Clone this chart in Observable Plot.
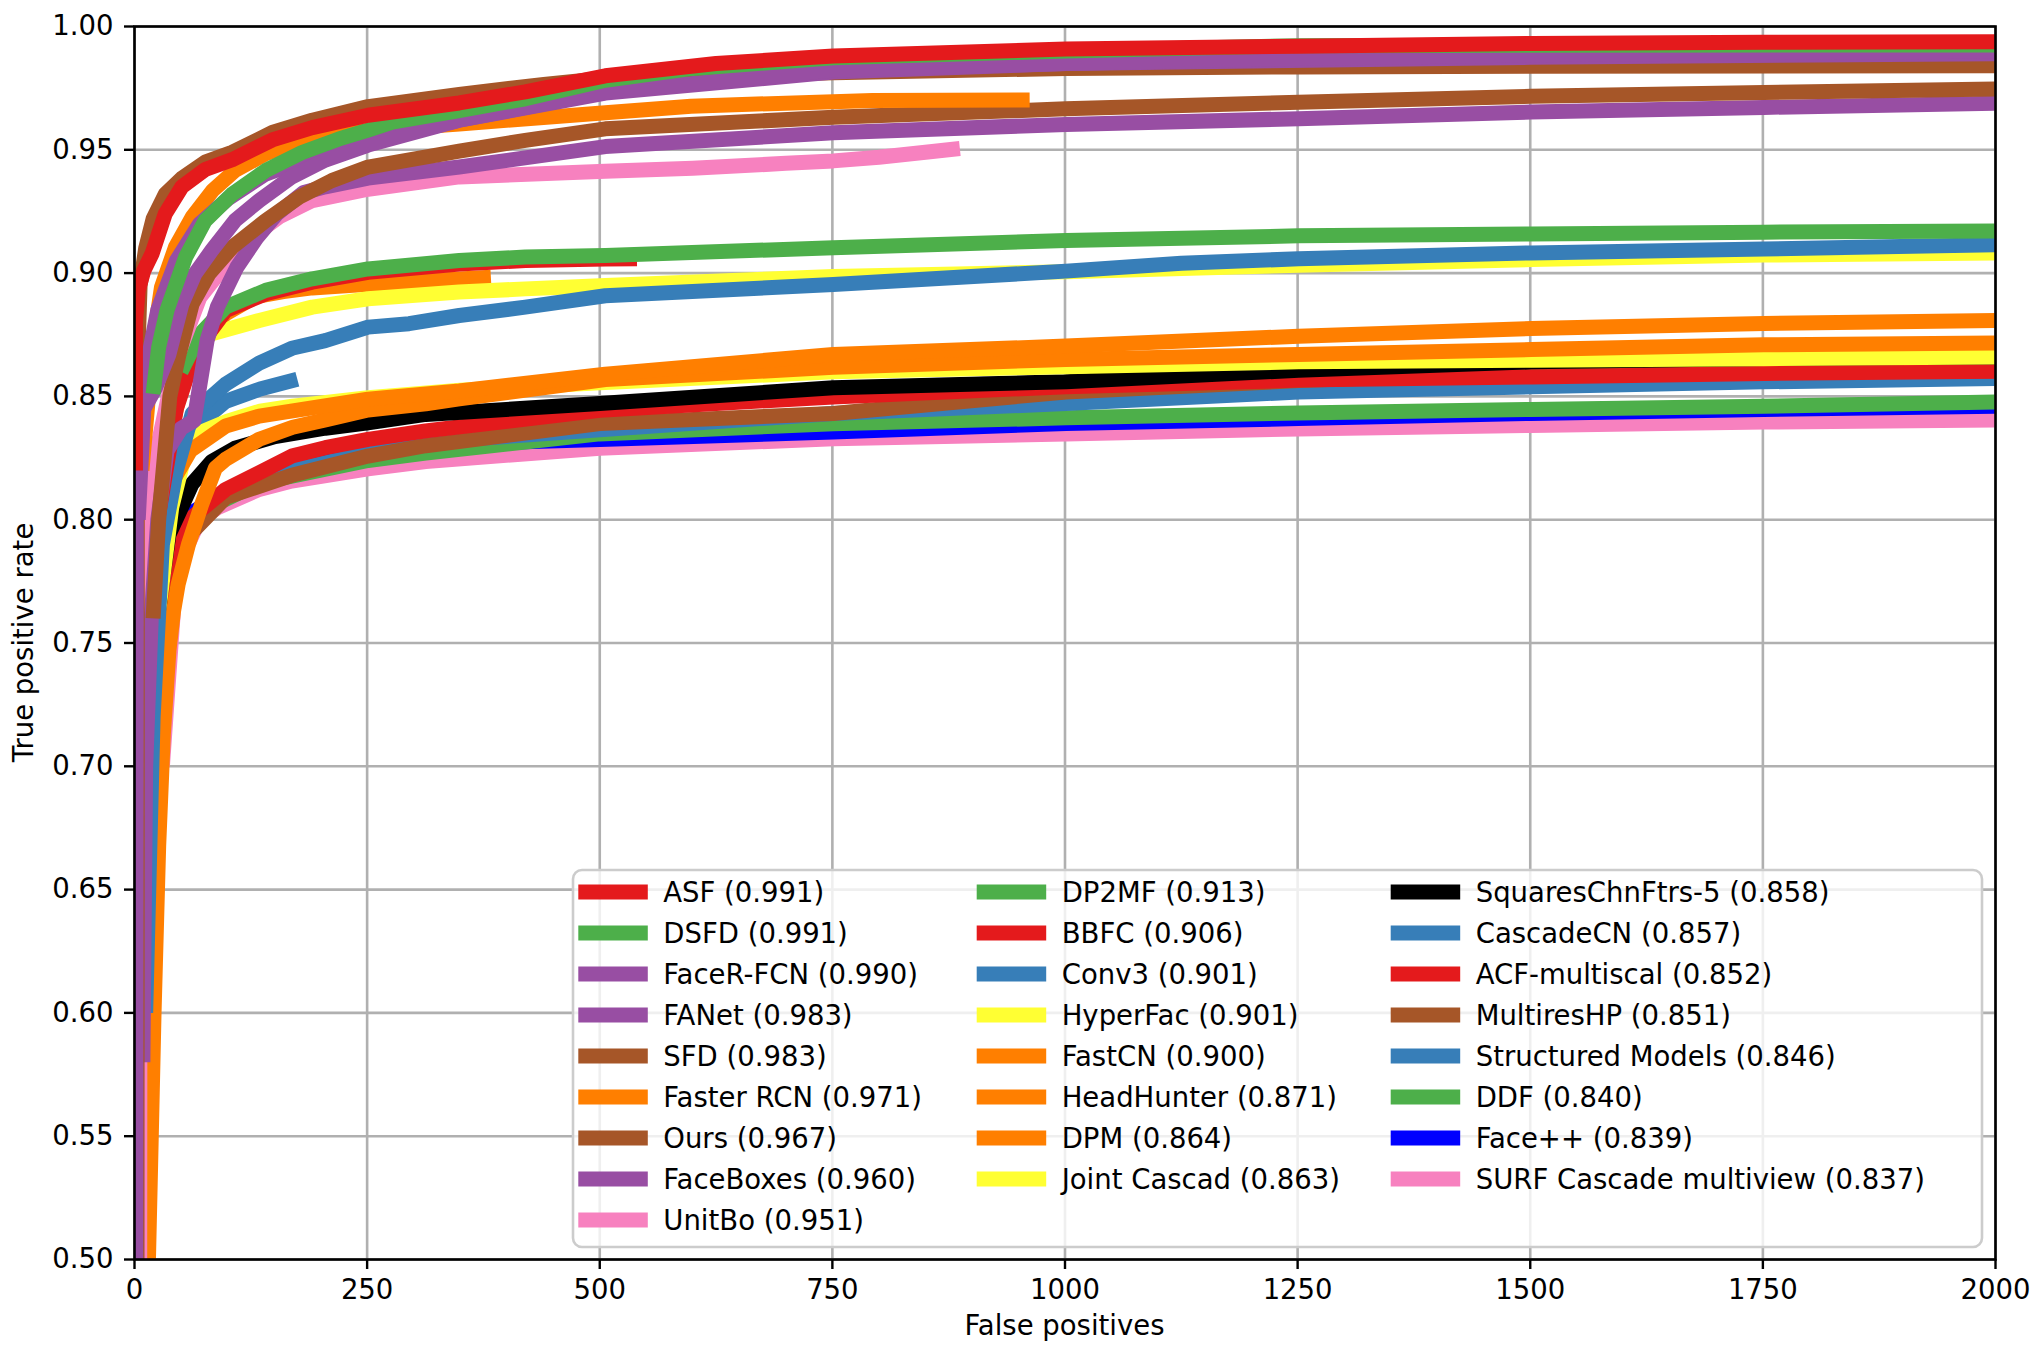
<!DOCTYPE html>
<html>
<head>
<meta charset="utf-8">
<script src="https://cdn.jsdelivr.net/npm/d3@7"></script>
<script src="https://cdn.jsdelivr.net/npm/@observablehq/plot@0.6"></script>
<style>
  html, body { margin: 0; padding: 0; background: #fff; }
  #chart { position: relative; width: 2038px; height: 1349px; }
</style>
</head>
<body>
<div id="chart"></div>
<script>
// ---------- data: [false positives, true positive rate] ----------
const ASF = [[1,0.82],[1,0.88],[4,0.893],[10,0.901],[19,0.908],[33,0.924],[51,0.935],[76,0.942],[105,0.946],[148,0.954],[191,0.959],[251,0.964],[349,0.969],[420,0.9735],[506,0.980],[625,0.985],[751,0.988],[1001,0.9909],[1251,0.992],[1501,0.9931],[1751,0.9936],[2000,0.9938]];
const DSFD = [[20,0.851],[26,0.87],[35,0.885],[55,0.9065],[76,0.9213],[105,0.932],[141,0.9416],[180,0.9489],[219,0.9543],[251,0.958],[277,0.9612],[349,0.9659],[420,0.9707],[506,0.9782],[600,0.983],[751,0.9873],[1001,0.9901],[1251,0.9922],[1501,0.9924],[2000,0.9925]];
const FaceRFCN = [[1.3,0.50],[2,0.83],[10,0.845],[22,0.853],[37,0.867],[51,0.8875],[65,0.8997],[83,0.9092],[108,0.9213],[134,0.9294],[169,0.939],[205,0.9458],[251,0.9519],[349,0.962],[506,0.9735],[751,0.9823],[1001,0.985],[1251,0.987],[1501,0.9885],[1751,0.9895],[2000,0.990]];
const FANet = [[4,0.80],[12,0.86],[25,0.885],[45,0.905],[70,0.92],[100,0.93],[140,0.94],[191,0.947],[251,0.953],[349,0.962],[506,0.973],[751,0.9815],[1001,0.985],[1500,0.9875],[2000,0.989]];
const SFD = [[2.7,0.50],[3,0.86],[6,0.895],[12,0.91],[20,0.922],[33,0.932],[51,0.9385],[76,0.945],[105,0.949],[148,0.957],[191,0.962],[251,0.9675],[349,0.9725],[440,0.9765],[506,0.979],[751,0.9812],[1001,0.983],[1251,0.9836],[1500,0.9839],[2000,0.9841]];
const FasterRCN = [[8,0.82],[15,0.85],[21,0.874],[29,0.8943],[44,0.9105],[62,0.9227],[84,0.9335],[108,0.9416],[141,0.9484],[191,0.9551],[251,0.9578],[349,0.9605],[506,0.965],[598,0.9677],[793,0.970],[962,0.9702]];
const Ours = [[20,0.76],[26,0.80],[32,0.825],[38,0.85],[48,0.8673],[62,0.8875],[80,0.8997],[105,0.9105],[141,0.9213],[177,0.9308],[212,0.9375],[251,0.943],[349,0.9495],[420,0.9538],[506,0.9585],[751,0.9632],[1001,0.9666],[1251,0.9693],[1501,0.9717],[1751,0.9732],[2000,0.9747]];
const FaceBoxes = [[9,0.58],[12,0.70],[18,0.76],[25,0.80],[35,0.828],[50,0.837],[64,0.8402],[78,0.8727],[89,0.8862],[110,0.9024],[132,0.9146],[153,0.924],[182,0.9327],[205,0.935],[251,0.9385],[349,0.943],[506,0.9513],[751,0.9569],[1001,0.9603],[1251,0.9626],[1501,0.9653],[1751,0.9672],[2000,0.9689]];
const UnitBo = [[5.6,0.50],[6,0.72],[12,0.79],[25,0.83],[45,0.865],[70,0.89],[101,0.905],[126,0.9146],[155,0.9227],[191,0.9294],[251,0.934],[349,0.939],[506,0.9413],[600,0.9425],[700,0.9445],[751,0.9455],[800,0.947],[850,0.949],[887,0.9505]];
const DP2MF = [[50,0.86],[70,0.875],[98,0.8862],[141,0.893],[191,0.8977],[251,0.9017],[349,0.9051],[420,0.9065],[506,0.9071],[751,0.9103],[1001,0.9132],[1251,0.9151],[1501,0.9159],[1751,0.9166],[2000,0.9171]];
const BBFC = [[25,0.80],[45,0.845],[65,0.868],[98,0.8848],[141,0.8916],[191,0.8963],[251,0.9003],[349,0.9037],[420,0.9051],[506,0.9057],[540,0.9058]];
const Conv3 = [[12,0.60],[20,0.72],[30,0.79],[45,0.82],[62,0.843],[98,0.855],[134,0.8635],[169,0.8695],[205,0.8726],[251,0.8781],[295,0.8795],[349,0.8828],[420,0.8862],[506,0.8908],[751,0.8954],[1001,0.9008],[1125,0.904],[1251,0.9058],[1501,0.9082],[1751,0.9098],[2000,0.9115]];
const HyperFac = [[83,0.8754],[134,0.8808],[191,0.8862],[251,0.8896],[349,0.8923],[420,0.8936],[506,0.895],[751,0.8986],[1001,0.9005],[1251,0.9032],[1501,0.9055],[1751,0.9073],[2000,0.9082]];
const FastCN = [[30,0.82],[60,0.87],[98,0.8835],[130,0.8905],[160,0.8925],[191,0.894],[251,0.8955],[320,0.897],[383,0.8983]];
const HeadHunter = [[15,0.74],[25,0.79],[40,0.815],[60,0.828],[98,0.838],[134,0.842],[170,0.8441],[251,0.8489],[349,0.8522],[506,0.859],[751,0.867],[1001,0.8704],[1251,0.8744],[1501,0.8775],[1751,0.8796],[2000,0.8808]];
const DPM = [[15,0.50],[17,0.533],[21,0.60],[26,0.668],[31,0.713],[37,0.747],[42,0.763],[47,0.774],[58,0.79],[72,0.806],[87,0.821],[98,0.8245],[134,0.8326],[170,0.8375],[205,0.8405],[251,0.8445],[313,0.847],[349,0.849],[506,0.8568],[751,0.8618],[1001,0.865],[1251,0.867],[1501,0.869],[1751,0.8709],[2000,0.8717]];
const JointCascad = [[25,0.76],[40,0.805],[55,0.828],[75,0.836],[100,0.84],[135,0.844],[170,0.846],[251,0.8495],[350,0.8525],[500,0.8555],[751,0.86],[1001,0.862],[1251,0.864],[1501,0.8647],[1751,0.8653],[2000,0.866]];
const SquaresChnFtrs = [[18,0.68],[20,0.70],[24,0.736],[28,0.77],[37,0.794],[48,0.803],[62,0.8146],[83,0.8236],[108,0.829],[151,0.8337],[205,0.8371],[251,0.8393],[313,0.8427],[500,0.8471],[751,0.8535],[1001,0.8559],[1251,0.8606],[1501,0.864],[1751,0.8654],[2000,0.866]];
const CascadeCN = [[10,0.60],[18,0.72],[28,0.79],[45,0.825],[65,0.8375],[98,0.848],[135,0.853],[175,0.857]];
const ACF = [[14,0.68],[20,0.74],[35,0.78],[50,0.795],[62,0.801],[98,0.8123],[134,0.819],[169,0.8258],[205,0.8292],[251,0.8326],[313,0.836],[500,0.8444],[751,0.8498],[1001,0.8539],[1251,0.8566],[1501,0.8579],[1751,0.8593],[2000,0.8602]];
const MultiresHP = [[10,0.65],[25,0.75],[40,0.78],[62,0.795],[98,0.809],[169,0.818],[251,0.8258],[313,0.83],[500,0.839],[751,0.8431],[1001,0.8518],[1251,0.8564],[1501,0.8597],[1751,0.8601],[2000,0.8603]];
const StructuredModels = [[14,0.70],[25,0.76],[40,0.785],[62,0.80],[98,0.811],[134,0.817],[251,0.827],[313,0.8314],[500,0.8365],[751,0.8431],[1001,0.8471],[1251,0.8518],[1501,0.8539],[1751,0.8559],[2000,0.8573]];
const DDF = [[20,0.70],[35,0.758],[42,0.781],[55,0.794],[80,0.805],[135,0.815],[251,0.824],[313,0.827],[500,0.8348],[751,0.8389],[1001,0.8413],[1251,0.8433],[1501,0.8447],[1751,0.846],[2000,0.8477]];
const FacePP = [[15,0.70],[30,0.78],[50,0.80],[100,0.812],[170,0.82],[251,0.829],[313,0.8305],[500,0.8325],[751,0.8356],[1001,0.839],[1251,0.841],[1501,0.8431],[1751,0.8447],[2000,0.846]];
const SURF = [[30,0.70],[45,0.78],[70,0.80],[90,0.805],[134,0.8123],[169,0.8157],[251,0.8206],[313,0.8236],[500,0.829],[751,0.8328],[1001,0.8348],[1251,0.8368],[1501,0.8382],[1751,0.8396],[2000,0.8404]];

// legend order
const legendNames = ["ASF","DSFD","FaceR-FCN","FANet","SFD","Faster RCN","Ours","FaceBoxes","UnitBo",
  "DP2MF","BBFC","Conv3","HyperFac","FastCN","HeadHunter","DPM","Joint Cascad",
  "SquaresChnFtrs-5","CascadeCN","ACF-multiscal","MultiresHP","Structured Models","DDF","Face++","SURF Cascade multiview"];
const legendScores = ["0.991","0.991","0.990","0.983","0.983","0.971","0.967","0.960","0.951",
  "0.913","0.906","0.901","0.901","0.900","0.871","0.864","0.863",
  "0.858","0.857","0.852","0.851","0.846","0.840","0.839","0.837"];
const seriesData = [ASF, DSFD, FaceRFCN, FANet, SFD, FasterRCN, Ours, FaceBoxes, UnitBo,
  DP2MF, BBFC, Conv3, HyperFac, FastCN, HeadHunter, DPM, JointCascad,
  SquaresChnFtrs, CascadeCN, ACF, MultiresHP, StructuredModels, DDF, FacePP, SURF];
const seriesColors = ["#e41a1c","#4daf4a","#984ea3","#984ea3","#a65628","#ff7f00","#a65628","#984ea3","#f781bf",
  "#4daf4a","#e41a1c","#377eb8","#ffff33","#ff7f00","#ff7f00","#ff7f00","#ffff33",
  "#000000","#377eb8","#e41a1c","#a65628","#377eb8","#4daf4a","#0000ff","#f781bf"];

const xTicks = [0, 250, 500, 750, 1000, 1250, 1500, 1750, 2000];
const yTicks = [0.50, 0.55, 0.60, 0.65, 0.70, 0.75, 0.80, 0.85, 0.90, 0.95, 1.00];

// ---------- layout ----------
const W = 2038, H = 1349;
const M = {left: 134, right: 43, top: 26, bottom: 90};
const FONT = "DejaVu Sans";
const FS = 27.5;
const LW = 15;

const series = legendNames.map((name, i) => ({name, data: seriesData[i], color: seriesColors[i]}));
const drawOrder = series.slice().reverse();

const svg = Plot.plot({
  width: W, height: H,
  marginLeft: M.left, marginRight: M.right, marginTop: M.top, marginBottom: M.bottom,
  style: {fontFamily: FONT, fontSize: FS + "px", background: "white", color: "black"},
  x: {domain: [0, 2000]},
  y: {domain: [0.5, 1]},
  marks: [
    Plot.gridX(xTicks, {stroke: "#b0b0b0", strokeOpacity: 1, strokeWidth: 2.6}),
    Plot.gridY(yTicks, {stroke: "#b0b0b0", strokeOpacity: 1, strokeWidth: 2.6}),
    ...drawOrder.map(s => Plot.line(s.data, {
      x: d => d[0], y: d => d[1], stroke: s.color, strokeWidth: LW,
      strokeLinejoin: "round", strokeLinecap: "butt", clip: true
    })),
    Plot.frame({stroke: "black", strokeWidth: 2.6}),
    Plot.axisX(xTicks, {tickSize: 10, tickPadding: 10, strokeWidth: 2.4, label: null,
      tickFormat: d => String(d), fontSize: FS}),
    Plot.axisY(yTicks, {tickSize: 10, tickPadding: 11, strokeWidth: 2.4, label: null,
      tickFormat: d3.format(".2f"), fontSize: FS})
  ]
});
document.getElementById("chart").appendChild(svg);

const s = d3.select(svg);
const plotCx = M.left + (W - M.left - M.right) / 2;
const plotCy = M.top + (H - M.top - M.bottom) / 2;

// axis labels
s.append("text").attr("x", plotCx).attr("y", 1335)
  .attr("text-anchor", "middle").attr("font-family", FONT).attr("font-size", FS)
  .attr("fill", "black").text("False positives");
s.append("text").attr("transform", `translate(33,${plotCy}) rotate(-90)`)
  .attr("text-anchor", "middle").attr("font-family", FONT).attr("font-size", FS)
  .attr("fill", "black").text("True positive rate");

// legend (inside plot, lower right, 3 columns)
const LG = {x: 573, y: 870, w: 1409, h: 377, row0: 892, rowStep: 41,
  colX: [578.3, 976.7, 1390.7], handle: 69.5, textGap: 85};
const lg = s.append("g").attr("text-anchor", "start");
lg.append("rect").attr("x", LG.x).attr("y", LG.y).attr("width", LG.w).attr("height", LG.h)
  .attr("rx", 9).attr("ry", 9)
  .attr("fill", "white").attr("fill-opacity", 0.8)
  .attr("stroke", "#cccccc").attr("stroke-width", 2.6);
const colSizes = [9, 8, 8];
let idx = 0;
colSizes.forEach((n, c) => {
  for (let r = 0; r < n; r++, idx++) {
    const sr = series[idx];
    const cy = LG.row0 + r * LG.rowStep;
    const x0 = LG.colX[c];
    lg.append("line").attr("x1", x0).attr("x2", x0 + LG.handle)
      .attr("y1", cy).attr("y2", cy)
      .attr("stroke", sr.color).attr("stroke-width", LW);
    lg.append("text").attr("x", x0 + LG.textGap).attr("y", cy + 10)
      .attr("text-anchor", "start")
      .attr("font-family", FONT).attr("font-size", FS).attr("fill", "black")
      .text(`${sr.name} (${legendScores[idx]})`);
  }
});
</script>
</body>
</html>
